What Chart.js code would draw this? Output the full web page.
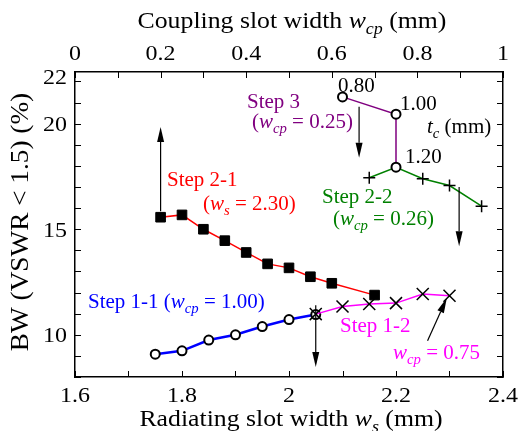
<!DOCTYPE html>
<html>
<head>
<meta charset="utf-8">
<script src="https://cdn.jsdelivr.net/npm/chart.js@4.4.1/dist/chart.umd.min.js"></script>
<style>
  body { margin: 0; background: #fff; }
  #wrap { width: 520px; height: 431px; position: relative; }
</style>
</head>
<body>
<div id="wrap"><canvas id="bw-chart"></canvas></div>
<script>
// Step 1-1 (wcp = 1.00), ws sweep
const ws11 = [1.75, 1.8, 1.85, 1.9, 1.95, 2.0, 2.05];
const bw11 = [9.08, 9.24, 9.75, 10.0, 10.39, 10.72, 10.96];
// Step 1-2, wcp down to 0.75
const ws12 = [2.05, 2.1, 2.15, 2.2, 2.25, 2.3];
const bw12 = [10.98, 11.34, 11.46, 11.5, 11.93, 11.85];
// Step 2-1 (ws = 2.30), plotted against the top wcp axis
const wcp21 = [0.2, 0.25, 0.3, 0.35, 0.4, 0.45, 0.5, 0.55, 0.6, 0.7];
const bw21 = [15.57, 15.68, 15.0, 14.46, 13.9, 13.36, 13.17, 12.75, 12.44, 11.88];
// Step 2-2 (wcp = 0.26)
const ws22 = [2.15, 2.2, 2.25, 2.3, 2.36];
const bw22 = [17.44, 17.94, 17.39, 17.07, 16.09];
// Step 3 (wcp = 0.25), tc sweep
const ws3 = [2.1, 2.2, 2.2];
const bw3 = [21.27, 20.45, 17.94];
const tc3 = ['0.80', '1.00', '1.20'];

// tick labels
const xTicks = [1.6, 1.8, 2.0, 2.2, 2.4];
const x2Ticks = [0, 0.2, 0.4, 0.6, 0.8, 1];
const yTicks = [10, 15, 20, 22];

const pts = (xs, ys) => xs.map((x, i) => ({ x: x, y: ys[i] }));
const FONT = '"Liberation Serif", "Times New Roman", serif';

// draws text made of pieces: n = normal, i = italic, s = italic subscript
function rich(ctx, segs, x, y, size, color, align, sx, rot) {
  ctx.save();
  ctx.fillStyle = color;
  ctx.textBaseline = 'alphabetic';
  const fontOf = k => k == 'n' ? size + 'px ' + FONT :
    k == 'i' ? 'italic ' + size + 'px ' + FONT :
    'italic ' + Math.round(size * 0.7) + 'px ' + FONT;
  let w = 0;
  segs.forEach(s => { ctx.font = fontOf(s[1]); w += ctx.measureText(s[0]).width; });
  ctx.translate(x, y);
  if (rot) ctx.rotate(-Math.PI / 2);
  ctx.scale(sx || 1, 1);
  let cx = align == 'center' ? -w / 2 : align == 'right' ? -w : 0;
  segs.forEach(s => {
    ctx.font = fontOf(s[1]);
    ctx.fillText(s[0], cx, s[1] == 's' ? size * 0.25 : 0);
    cx += ctx.measureText(s[0]).width;
  });
  ctx.restore();
}

function arrow(ctx, x1, y1, x2, y2) {
  const a = Math.atan2(y2 - y1, x2 - x1);
  const len = 15, half = 3.5;
  ctx.save();
  ctx.strokeStyle = '#000';
  ctx.fillStyle = '#000';
  ctx.lineWidth = 1.2;
  ctx.beginPath();
  ctx.moveTo(x1, y1);
  ctx.lineTo(x2 - Math.cos(a) * len, y2 - Math.sin(a) * len);
  ctx.stroke();
  ctx.beginPath();
  ctx.moveTo(x2, y2);
  ctx.lineTo(x2 - Math.cos(a) * len - Math.sin(a) * half, y2 - Math.sin(a) * len + Math.cos(a) * half);
  ctx.lineTo(x2 - Math.cos(a) * len + Math.sin(a) * half, y2 - Math.sin(a) * len - Math.cos(a) * half);
  ctx.closePath();
  ctx.fill();
  ctx.restore();
}

// inward ticks, tick labels, axis titles, arrows and notes
const decor = {
  id: 'decor',
  afterDraw(chart) {
    const ctx = chart.ctx;
    const a = chart.chartArea;
    const sx = chart.scales.x, sx2 = chart.scales.x2, sy = chart.scales.y;
    ctx.save();
    ctx.strokeStyle = '#000';
    ctx.lineWidth = 1;
    ctx.beginPath();
    for (let v = 16; v <= 24; v++) {
      const px = Math.round(sx.getPixelForValue(v / 10)) + 0.5;
      ctx.moveTo(px, a.bottom); ctx.lineTo(px, a.bottom - 6);
    }
    for (let v = 0; v <= 10; v++) {
      const px = Math.round(sx2.getPixelForValue(v / 10)) + 0.5;
      ctx.moveTo(px, a.top); ctx.lineTo(px, a.top + 6);
    }
    for (let v = 8; v <= 22; v++) {
      const py = Math.round(sy.getPixelForValue(v)) + 0.5;
      ctx.moveTo(a.left, py); ctx.lineTo(a.left + 6, py);
      ctx.moveTo(a.right, py); ctx.lineTo(a.right - 6, py);
    }
    ctx.stroke();
    ctx.restore();

    const TS = 22, TX = 1.09;
    xTicks.forEach(v => rich(ctx, [[String(+v.toFixed(1)), 'n']], sx.getPixelForValue(v), a.bottom + 25, TS, '#000', 'center', TX));
    x2Ticks.forEach(v => rich(ctx, [[String(+v.toFixed(1)), 'n']], sx2.getPixelForValue(v), a.top - 12, TS, '#000', 'center', TX));
    yTicks.forEach(v => {
      const py = sy.getPixelForValue(v);
      const base = py - a.top < 15 ? a.top + 12 : py + 7.7;
      rich(ctx, [[String(v), 'n']], a.left - 8, base, TS, '#000', 'right', TX);
    });

    rich(ctx, [['Coupling slot width ', 'n'], ['w', 'i'], ['cp', 's'], [' (mm)', 'n']], 292, 28, 23, '#000', 'center', 1.12);
    rich(ctx, [['Radiating slot width ', 'n'], ['w', 'i'], ['s', 's'], [' (mm)', 'n']], 291, 426, 23, '#000', 'center', 1.12);
    rich(ctx, [['BW (VSWR < 1.5) (%)', 'n']], 28, 222, 25, '#000', 'center', 1.09, true);

    // arrows
    const X = v => sx.getPixelForValue(v), X2 = v => sx2.getPixelForValue(v), Y = v => sy.getPixelForValue(v);
    arrow(ctx, X2(wcp21[0]), Y(15.85), X2(wcp21[0]), Y(19.85));
    arrow(ctx, X(2.05), Y(11.4), X(2.05), Y(8.47));
    arrow(ctx, X(2.131), Y(20.8), X(2.131), Y(18.39));
    arrow(ctx, X(2.318), Y(17.0), X(2.318), Y(14.2));
    arrow(ctx, X(2.259), Y(9.72), X(2.295), Y(11.74));

    // notes
    const N = 20, NX = 1.05;
    const purple = '#800080', red = '#ff0000', green = '#008000', blue = '#0000ff', mag = '#ff00ff';
    rich(ctx, [['Step 3', 'n']], 247, 108, N, purple, 'left', NX);
    rich(ctx, [['(', 'n'], ['w', 'i'], ['cp', 's'], [' = 0.25)', 'n']], 252, 128, N, purple, 'left', NX);
    rich(ctx, [[tc3[0], 'n']], 338, 91.7, N, '#000', 'left', NX);
    rich(ctx, [[tc3[1], 'n']], 400, 110, N, '#000', 'left', NX);
    rich(ctx, [[tc3[2], 'n']], 405, 163.3, N, '#000', 'left', NX);
    rich(ctx, [['t', 'i'], ['c', 's'], [' (mm)', 'n']], 427, 133, N, '#000', 'left', NX);
    rich(ctx, [['Step 2-1', 'n']], 167, 185.7, N, red, 'left', NX);
    rich(ctx, [['(', 'n'], ['w', 'i'], ['s', 's'], [' = 2.30)', 'n']], 203, 210, N, red, 'left', NX);
    rich(ctx, [['Step 2-2', 'n']], 322, 202.7, N, green, 'left', NX);
    rich(ctx, [['(', 'n'], ['w', 'i'], ['cp', 's'], [' = 0.26)', 'n']], 333, 225, N, green, 'left', NX);
    rich(ctx, [['Step 1-1 (', 'n'], ['w', 'i'], ['cp', 's'], [' = 1.00)', 'n']], 88, 308, N, blue, 'left', NX);
    rich(ctx, [['Step 1-2', 'n']], 340, 331.7, N, mag, 'left', NX);
    rich(ctx, [['w', 'i'], ['cp', 's'], [' = 0.75', 'n']], 393, 359.3, N, mag, 'left', NX);
  }
};

const blackBorder = { display: true, color: '#000', width: 1.5 };

new Chart('bw-chart', {
  type: 'scatter',
  data: {
    datasets: [
      { label: 'Step 1-2', data: pts(ws12, bw12), xAxisID: 'x', showLine: true,
        borderColor: '#ff00ff', borderWidth: 1.5, pointStyle: 'crossRot', pointRadius: 8.5,
        pointBorderColor: '#000', pointBorderWidth: 1.5, pointBackgroundColor: 'rgba(0,0,0,0)' },
      { label: 'Step 1-1', data: pts(ws11, bw11), xAxisID: 'x', showLine: true,
        borderColor: '#0000ff', borderWidth: 2.5, pointStyle: 'circle', pointRadius: 4.5,
        pointBorderColor: '#000', pointBorderWidth: 2, pointBackgroundColor: '#fff' },
      { label: 'Step 3', data: pts(ws3, bw3), xAxisID: 'x', showLine: true,
        borderColor: '#800080', borderWidth: 1.5, pointStyle: 'circle', pointRadius: 4.5,
        pointBorderColor: '#000', pointBorderWidth: 2, pointBackgroundColor: '#fff' },
      { label: 'Step 2-2', data: pts(ws22, bw22), xAxisID: 'x', showLine: true,
        borderColor: '#008000', borderWidth: 1.5, pointStyle: 'cross', pointRadius: [6, 0, 6, 6, 6],
        pointBorderColor: '#000', pointBorderWidth: 1.5 },
      { label: 'Step 2-1', data: pts(wcp21, bw21), xAxisID: 'x2', showLine: true,
        borderColor: '#ff0000', borderWidth: 1.5, pointStyle: 'rect', pointRadius: 6.8,
        pointBorderColor: '#000', pointBorderWidth: 1, pointBackgroundColor: '#000' }
    ]
  },
  options: {
    responsive: true,
    maintainAspectRatio: false,
    animation: false,
    layout: { padding: 0 },
    plugins: { legend: { display: false }, tooltip: { enabled: false } },
    scales: {
      x: { type: 'linear', position: 'bottom', min: 1.6, max: 2.4,
        ticks: { display: false }, grid: { display: false, drawTicks: false }, border: blackBorder,
        afterFit: s => { s.height = 54; } },
      x2: { type: 'linear', position: 'top', min: 0, max: 1,
        ticks: { display: false }, grid: { display: false, drawTicks: false }, border: blackBorder,
        afterFit: s => { s.height = 72; } },
      y: { type: 'linear', position: 'left', min: 8, max: 22.45,
        ticks: { display: false }, grid: { display: false, drawTicks: false }, border: blackBorder,
        afterFit: s => { s.width = 75; } },
      y2: { type: 'linear', position: 'right', min: 8, max: 22.45,
        ticks: { display: false }, grid: { display: false, drawTicks: false }, border: blackBorder,
        afterFit: s => { s.width = 17; } }
    }
  },
  plugins: [decor]
});
</script>
</body>
</html>
